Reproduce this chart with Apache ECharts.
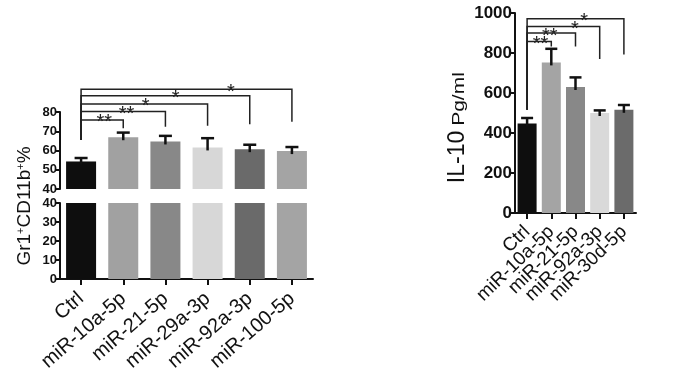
<!DOCTYPE html>
<html>
<head>
<meta charset="utf-8">
<script src="https://cdn.jsdelivr.net/npm/echarts@6/dist/echarts.min.js"></script>
<style>
html,body{margin:0;padding:0;background:#fff;}
#chart{width:680px;height:386px;}
</style>
</head>
<body>
<div id="chart"></div>
<script>
// ---- Left panel data (Gr1+CD11b+ %) ----
const leftCategories = ['Ctrl', 'miR-10a-5p', 'miR-21-5p', 'miR-29a-3p', 'miR-92a-3p', 'miR-100-5p'];
const leftMeans = [54.3, 66.9, 64.7, 61.6, 60.7, 59.7];
const leftErrors = [1.8, 2.4, 2.9, 4.8, 2.3, 2.1];
const leftSigTargets = [1, 2, 3, 4, 5];
const leftSigMarks = ['**', '**', '*', '*', '*'];
const leftSigLineY = [75.9, 80.2, 84.2, 88.5, 91.8];
const leftSigDropY = [71.6, 72.4, 72.8, 73.7, 75.0];
const leftSigBase = 65.5;
const leftUpperTicks = [40, 80, 10];
const leftLowerTicks = [0, 40, 10];

// ---- Right panel data (IL-10 pg/ml) ----
const rightCategories = ['Ctrl', 'miR-10a-5p', 'miR-21-5p', 'miR-92a-3p', 'miR-30d-5p'];
const rightMeans = [447, 753, 630, 500, 516];
const rightErrors = [28, 68, 48, 13, 24];
const rightSigTargets = [1, 2, 3, 4];
const rightSigMarks = ['**', '**', '*', '*'];
const rightSigLineY = [858, 900, 933, 971];
const rightSigDropY = [833, 833, 770, 792];
const rightSigBase = 516;
const rightTicks = [0, 1000, 200];

// ---- styling ----
const FONT = 'Liberation Sans, Arial, sans-serif';
const INK = '#111111';
const leftColors = ['#0e0e0e', '#a1a1a1', '#888888', '#d7d7d7', '#6a6a6a', '#a4a4a4'];
const rightColors = ['#0e0e0e', '#a4a4a4', '#888888', '#d9d9d9', '#6b6b6b'];
const leftStarFrac = [0.55, 0.54, 0.51, 0.56, 0.71];
const rightStarFrac = [0.55, 0.47, 0.66, 0.59];

const chart = echarts.init(document.getElementById('chart'), null, {renderer: 'canvas'});

function yAxisCfg(grid, ticks, fs) {
  return {
    gridIndex: grid, type: 'value', min: ticks[0], max: ticks[1], interval: ticks[2],
    axisLine: {show: true, lineStyle: {color: INK, width: 2}},
    axisTick: {show: true, length: 5, lineStyle: {color: INK, width: 2}},
    axisLabel: {fontSize: fs, fontWeight: 'bold', color: INK, fontFamily: FONT, margin: 3,
      formatter: function (v) { return String(v); }},
    splitLine: {show: false}
  };
}
function xAxisCfg(grid, cats, fs, rot, margin) {
  return {
    gridIndex: grid, type: 'category', data: cats,
    axisLine: {show: true, lineStyle: {color: INK, width: 2}},
    axisTick: {show: true, alignWithLabel: true, length: 6, lineStyle: {color: INK, width: 2}},
    axisLabel: {rotate: rot, fontSize: fs, color: INK, fontFamily: FONT, margin: margin, interval: 0}
  };
}

function errorRender(capHalf) {
  return function (params, api) {
    const i = api.value(0), v = api.value(1), e = api.value(2);
    const base = api.coord([i, v]);
    const top = api.coord([i, v + e]);
    const st = {stroke: INK, lineWidth: 2.5};
    return {type: 'group', children: [
      {type: 'line', shape: {x1: base[0], y1: base[1] + 3, x2: top[0], y2: top[1]}, style: st},
      {type: 'line', shape: {x1: top[0] - capHalf, y1: top[1], x2: top[0] + capHalf, y2: top[1]}, style: st}
    ]};
  };
}

function bracketRender(marks, fracs, base) {
  return function (params, api) {
    const t = api.value(0), yl = api.value(1), yd = api.value(2);
    const p0 = api.coord([0, yl]);
    const pb = api.coord([0, base]);
    const p1 = api.coord([t, yl]);
    const pd = api.coord([t, yd]);
    const f = fracs[params.dataIndex];
    const sx = p0[0] + f * (p1[0] - p0[0]);
    return {type: 'group', children: [
      {type: 'polyline', shape: {points: [[pb[0], pb[1]], [p0[0], p0[1]], [p1[0], p1[1]], [pd[0], pd[1]]]},
        style: {stroke: '#222', lineWidth: 1.5, fill: null}},
      {type: 'text', x: sx, y: p0[1] + 13,
        style: {text: marks[params.dataIndex], font: '20px ' + FONT, fill: '#222', align: 'center', verticalAlign: 'bottom'}}
    ]};
  };
}

const option = {
  animation: false,
  backgroundColor: '#ffffff',
  grid: [
    {left: 60, top: 112, width: 253, height: 77},
    {left: 60, top: 203, width: 253, height: 76},
    {left: 515, top: 13, width: 121, height: 200}
  ],
  xAxis: [
    {gridIndex: 0, type: 'category', data: leftCategories, show: false},
    xAxisCfg(1, leftCategories, 20, 41, 17),
    xAxisCfg(2, rightCategories, 19, 44, 16)
  ],
  yAxis: [
    yAxisCfg(0, leftUpperTicks, 13),
    yAxisCfg(1, leftLowerTicks, 13),
    yAxisCfg(2, rightTicks, 17)
  ],
  series: [
    {type: 'bar', xAxisIndex: 0, yAxisIndex: 0, barWidth: 30,
      data: leftMeans.map((v, i) => ({value: v, itemStyle: {color: leftColors[i]}}))},
    {type: 'bar', xAxisIndex: 1, yAxisIndex: 1, barWidth: 30,
      data: leftMeans.map((v, i) => ({value: v, itemStyle: {color: leftColors[i]}}))},
    {type: 'custom', xAxisIndex: 0, yAxisIndex: 0, renderItem: errorRender(6.5),
      data: leftMeans.map((v, i) => [i, v, leftErrors[i]]), z: 5},
    {type: 'custom', xAxisIndex: 0, yAxisIndex: 0, renderItem: bracketRender(leftSigMarks, leftStarFrac, leftSigBase),
      data: leftSigTargets.map((t, i) => [t, leftSigLineY[i], leftSigDropY[i]]), z: 6},
    {type: 'bar', xAxisIndex: 2, yAxisIndex: 2, barWidth: 19,
      data: rightMeans.map((v, i) => ({value: v, itemStyle: {color: rightColors[i]}}))},
    {type: 'custom', xAxisIndex: 2, yAxisIndex: 2, renderItem: errorRender(6),
      data: rightMeans.map((v, i) => [i, v, rightErrors[i]]), z: 5},
    {type: 'custom', xAxisIndex: 2, yAxisIndex: 2, renderItem: bracketRender(rightSigMarks, rightStarFrac, rightSigBase),
      data: rightSigTargets.map((t, i) => [t, rightSigLineY[i], rightSigDropY[i]]), z: 6}
  ],
  graphic: [
    {type: 'text', x: 25, y: 206, rotation: Math.PI / 2,
      style: {text: 'Gr1{s|+}CD11b{s|+}%', font: '19px ' + FONT, fill: INK, align: 'center', verticalAlign: 'middle',
        rich: {s: {fontSize: 11, fontFamily: FONT, verticalAlign: 'top', fill: INK}}}},
    {type: 'text', x: 458, y: 157, rotation: Math.PI / 2,
      style: {text: 'IL-10', font: '23px ' + FONT, fill: INK, align: 'center', verticalAlign: 'middle'}},
    {type: 'text', x: 459, y: 99, rotation: Math.PI / 2, scaleY: 0.78,
      style: {text: 'Pg/ml', font: '21px ' + FONT, fill: INK, align: 'center', verticalAlign: 'middle'}}
  ]
};
chart.setOption(option);
</script>
</body>
</html>
